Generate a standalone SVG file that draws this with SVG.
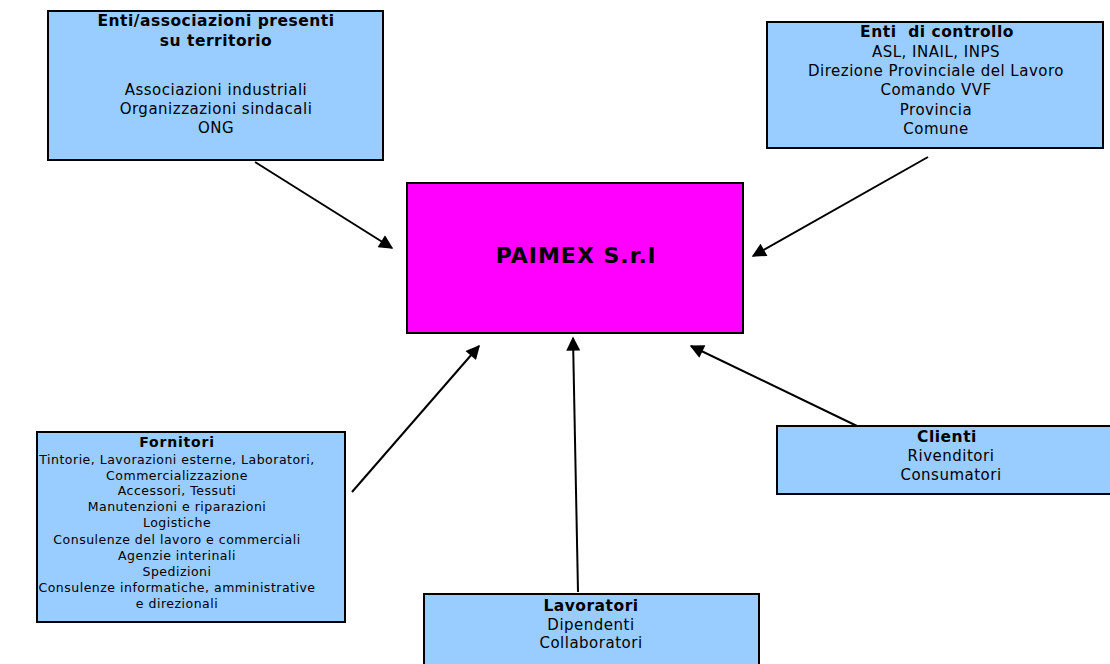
<svg xmlns="http://www.w3.org/2000/svg" width="1110" height="664" viewBox="0 0 1110 664">
<style>
.box{fill:#99CCFF;stroke:#000;stroke-width:2}
.main{fill:#FF00FF;stroke:#000;stroke-width:2}
text{font-family:"DejaVu Sans",Verdana,sans-serif;fill:#000;text-anchor:middle;font-size:15px;letter-spacing:0.5px}
.b{font-weight:bold;font-size:15.5px}
.s{font-size:12.5px}
.t{font-size:14px;font-weight:bold;letter-spacing:0.8px}
.big{font-size:22px;font-weight:bold;letter-spacing:1px}
.c{stroke:#000;stroke-width:2;fill:none;marker-end:url(#ah)}
</style>
<defs>
<marker id="ah" viewBox="0 0 10 10" refX="9" refY="5" markerWidth="8" markerHeight="7" markerUnits="strokeWidth" orient="auto">
<path d="M0,0 L10,5 L0,10 z" fill="#000"/>
</marker>
</defs>
<g id="connectors">
<line class="c" x1="255" y1="162" x2="392" y2="248"/>
<line class="c" x1="928" y1="157" x2="753" y2="256"/>
<line class="c" x1="352" y1="492" x2="479" y2="346"/>
<line class="c" x1="578" y1="592" x2="573" y2="338"/>
<line class="c" x1="857" y1="426" x2="691" y2="346"/>
</g>
<g id="enti-associazioni">
<rect class="box" x="48" y="11" width="335" height="149"/>
<text class="b" x="216" y="26">Enti/associazioni presenti</text>
<text class="b" x="216" y="46">su territorio</text>
<text x="216" y="95">Associazioni industriali</text>
<text x="216" y="114">Organizzazioni sindacali</text>
<text x="216" y="133">ONG</text>
</g>
<g id="enti-controllo">
<rect class="box" x="767" y="22" width="336" height="126"/>
<text class="b" x="937" y="37" xml:space="preserve">Enti  di controllo</text>
<text x="936" y="57">ASL, INAIL, INPS</text>
<text x="936" y="76">Direzione Provinciale del Lavoro</text>
<text x="936" y="95">Comando VVF</text>
<text x="936" y="115">Provincia</text>
<text x="936" y="134">Comune</text>
</g>
<g id="paimex">
<rect class="main" x="407" y="183" width="336" height="150"/>
<text class="big" x="576" y="263">PAIMEX S.r.l</text>
</g>
<g id="fornitori">
<rect class="box" x="37" y="432" width="308" height="190"/>
<text class="t" x="177" y="447">Fornitori</text>
<text class="s" x="177" y="464">Tintorie, Lavorazioni esterne, Laboratori,</text>
<text class="s" x="177" y="480">Commercializzazione</text>
<text class="s" x="177" y="495">Accessori, Tessuti</text>
<text class="s" x="177" y="511">Manutenzioni e riparazioni</text>
<text class="s" x="177" y="527">Logistiche</text>
<text class="s" x="177" y="544">Consulenze del lavoro e commerciali</text>
<text class="s" x="177" y="560">Agenzie interinali</text>
<text class="s" x="177" y="576">Spedizioni</text>
<text class="s" x="177" y="592">Consulenze informatiche, amministrative</text>
<text class="s" x="177" y="608">e direzionali</text>
</g>
<g id="clienti">
<rect class="box" x="777" y="426" width="340" height="68"/>
<text class="b" x="947" y="442">Clienti</text>
<text x="951" y="461">Rivenditori</text>
<text x="951" y="480">Consumatori</text>
</g>
<g id="lavoratori">
<rect class="box" x="424" y="594" width="335" height="80"/>
<text class="b" x="591" y="611">Lavoratori</text>
<text x="591" y="630">Dipendenti</text>
<text x="591" y="648">Collaboratori</text>
</g>
</svg>
